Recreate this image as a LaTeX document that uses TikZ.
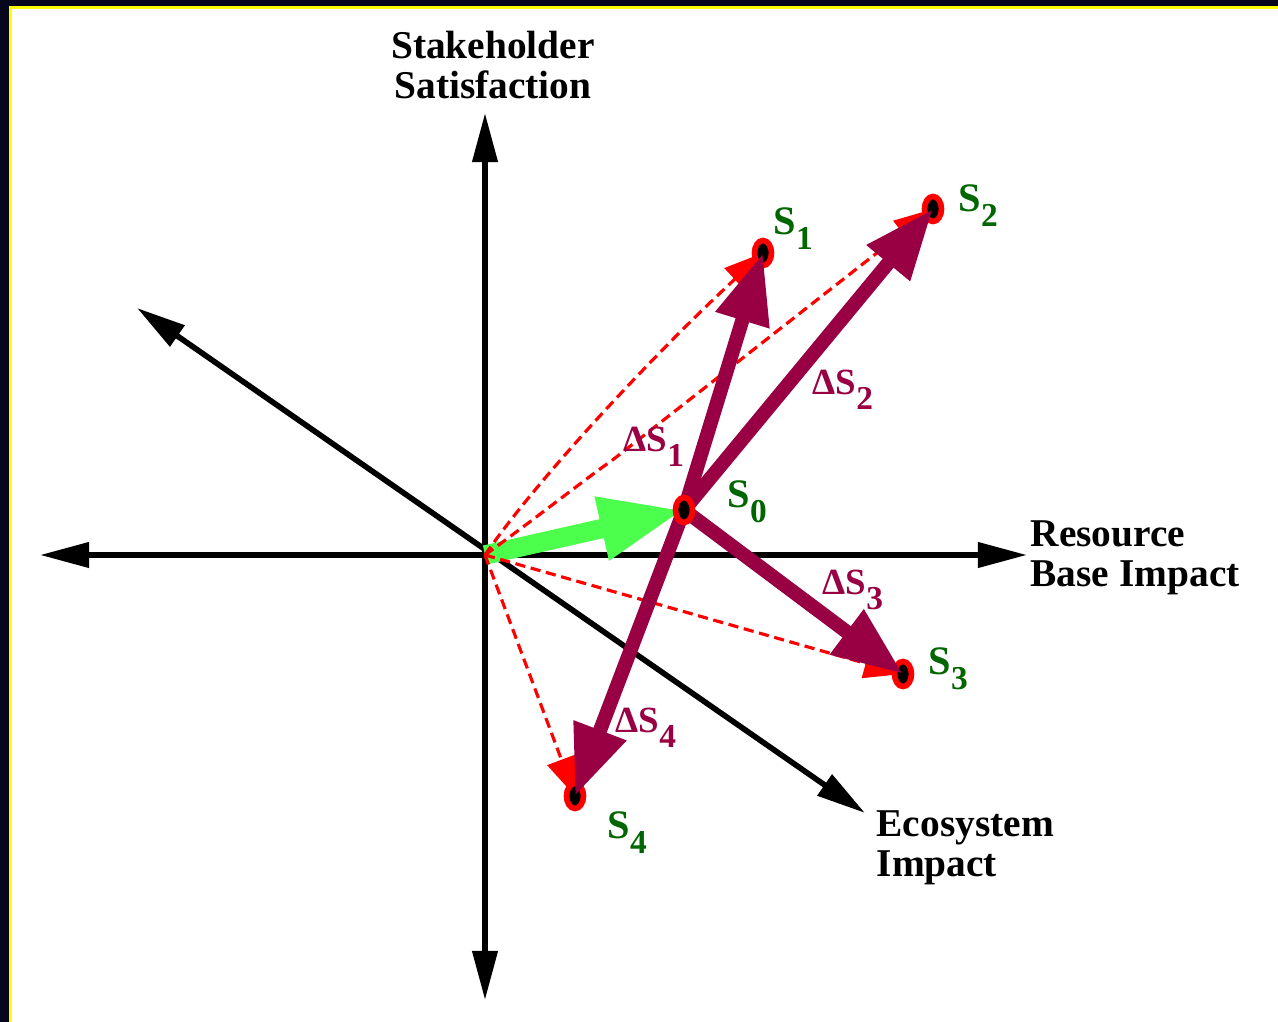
\documentclass[tikz,border=0pt]{standalone}
\usepackage{fontspec}
\setmainfont{Liberation Serif}
\usepackage{tikz}
\usetikzlibrary{arrows.meta, shapes.geometric}
\definecolor{slidenavy}{HTML}{06061C}
\definecolor{slideyellow}{HTML}{FFFF00}
\definecolor{deltamaroon}{HTML}{990044}
\definecolor{pathgreen}{HTML}{4CFF4C}
\definecolor{labelgreen}{HTML}{006600}
\newcommand{\lowidx}[1]{\raisebox{-4pt}{\fontsize{9.5}{9.5}\selectfont #1}}

\begin{document}
\begin{tikzpicture}[x=0.01cm, y=-0.01cm,
    axis/.style={line width=1.6pt, {Triangle[length=14pt,width=7pt]}-{Triangle[length=14pt,width=7pt]}},
    deltaarr/.style={draw=deltamaroon, line width=4pt, -{Triangle[length=20pt,width=15pt]}},
    dashpath/.style={draw=red, line width=0.9pt, dash pattern=on 2.9pt off 1.6pt, -{Triangle[length=11pt,width=8.5pt]}},
    stpt/.style={ellipse, draw=red, line width=1.6pt, fill=black, minimum width=0.17cm, minimum height=0.25cm, inner sep=0pt},
    axlabel/.style={inner sep=0pt, font=\bfseries\fontsize{11.2}{11.4}\selectfont},
    slabel/.style={inner sep=0pt, anchor=base west, text=labelgreen, font=\bfseries\fontsize{11.5}{12}\selectfont},
    dlabel/.style={inner sep=0pt, anchor=base west, text=deltamaroon, font=\bfseries\fontsize{10.5}{11}\selectfont}]
    \useasboundingbox (0,0) rectangle (1278,1022);
    % slide frame
    \fill[slidenavy] (0,0) rectangle (1278,1022);
    \fill[slideyellow] (9,6) rectangle (1278,1022);
    \fill[white] (12,9) rectangle (1278,1022);

    \coordinate (o) at (485,555);
    \coordinate (yt) at (485,113);
    \coordinate (yb) at (485,1000);
    \coordinate (xl) at (40,555);
    \coordinate (xr) at (1027,555);
    \coordinate (el) at (137,308);
    \coordinate (er) at (865,813);
    \coordinate (p0) at (684,510);
    \coordinate (p1) at (763,253);
    \coordinate (p2) at (933,209);
    \coordinate (p3) at (903,674);
    \coordinate (p4) at (575,796);

    % axes
    \draw[axis] (yb) -- (yt);
    \draw[axis] (xl) -- (xr);
    \draw[axis] (el) -- (er);
    \node[axlabel, align=center] (ssat) at (493,65) {Stakeholder\\Satisfaction};
    \node[axlabel, align=left, anchor=west] (rbi) at (1030,558) {Resource\\Base Impact};
    \node[axlabel, align=left, anchor=west] (eci) at (876,848) {Ecosystem\\Impact};

    % current state
    \draw[pathgreen, line width=5.5pt, -{Triangle[length=24pt,width=17pt]}] (o) -- (p0);

    % direct paths
    \draw[dashpath] (o) .. controls (535,482) and (650,358) .. (p1);
    \draw[dashpath] (o) .. controls (540,515) and (600,468) .. (610,462) -- (p2);
    \draw[dashpath] (o) -- (p3);
    \draw[dashpath] (o) -- (p4);

    \node[stpt] (s1) at (p1) {};
    \node[stpt] (s2) at (p2) {};
    \node[stpt] (s3) at (p3) {};
    \node[stpt] (s4) at (p4) {};

    % changes
    \draw[deltaarr] (p0) -- (s1.center);
    \draw[deltaarr] (p0) -- (s2.center);
    \draw[deltaarr] (p0) -- (s3.center);
    \draw[deltaarr] (p0) -- (s4.center);
    \node[stpt] (s0) at (p0) {};

    \node[slabel] (l0) at (727,508) {S\lowidx{0}};
    \node[slabel] (l1) at (773,235) {S\lowidx{1}};
    \node[slabel] (l2) at (958,212) {S\lowidx{2}};
    \node[slabel] (l3) at (928,675) {S\lowidx{3}};
    \node[slabel] (l4) at (607,839) {S\lowidx{4}};
    \node[dlabel] (d1) at (623,452) {ΔS\lowidx{1}};
    \node[dlabel] (d2) at (812,395) {ΔS\lowidx{2}};
    \node[dlabel] (d3) at (822,595) {ΔS\lowidx{3}};
    \node[dlabel] (d4) at (615,733) {ΔS\lowidx{4}};
\end{tikzpicture}
\end{document}
